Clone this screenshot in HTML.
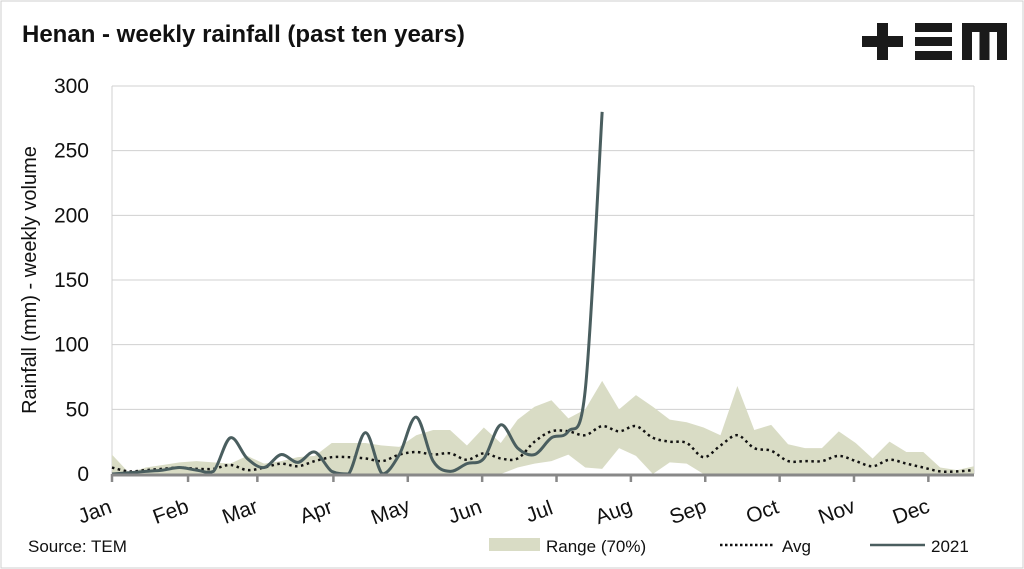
<!DOCTYPE html>
<html><head><meta charset="utf-8"><style>
body{margin:0;background:#fff;}
svg{display:block;font-family:"Liberation Sans",sans-serif;}
</style></head><body>
<svg id="chart" width="1024" height="569" viewBox="0 0 1024 569">
<rect x="1" y="1" width="1022" height="567" fill="#fff" stroke="#cfcfcf"/>
<text x="22" y="42" font-size="24" font-weight="bold" fill="#111">Henan - weekly rainfall (past ten years)</text>
<g fill="#1a1a1a">
<rect x="862" y="36" width="41" height="11"/><rect x="877" y="23" width="11" height="37"/>
<rect x="915" y="23" width="37" height="9"/><rect x="915" y="37" width="37" height="9"/><rect x="915" y="51" width="37" height="9"/>
<path d="M962 23h45v37h-10v-28h-7.5v28h-10v-28h-7.5v28h-10z"/>
</g>
<text transform="translate(36,280) rotate(-90)" text-anchor="middle" font-size="20" fill="#111">Rainfall (mm) - weekly volume</text>
<g id="grid"></g><g id="marks"></g><g id="axes"></g>
<text x="28" y="552" font-size="17" fill="#111">Source: TEM</text>
<g>
<g><rect x="489" y="538" width="51" height="13" fill="#d9dcc5"/><text x="546" y="552" font-size="17" fill="#111">Range (70%)</text></g>
<g><line x1="720" y1="545" x2="775" y2="545" stroke="#111" stroke-width="2.5" stroke-dasharray="2.5 2.5"/><text x="782" y="552" font-size="17" fill="#111">Avg</text></g>
<g><line x1="870" y1="545" x2="925" y2="545" stroke="#4a5e5f" stroke-width="2.5"/><text x="931" y="552" font-size="17" fill="#111">2021</text></g>
</g>
</svg>
<script>
const months=["Jan","Feb","Mar","Apr","May","Jun","Jul","Aug","Sep","Oct","Nov","Dec"];
const monthWeeks=[0,4.5,8.6,13.1,17.5,21.9,26.3,30.7,35.1,39.5,43.9,48.3];
const yTicks=[0,50,100,150,200,250,300];
const rangeUpper=[15,1,5,7,9,10,9,8,14,8,10,13,14,24,24,24,22,21,30,34,34,22,36,24,42,52,57,43,50,72,50,61,52,42,40,36,30,68,34,38,23,20,20,33,24,12,25,17,17,5,3,6];
const rangeLower=[0,0,0,0,0,0,0,0,0,0,0,0,0,0,0,0,0,0,0,0,0,0,0,0,5,8,10,15,5,4,20,14,0,9,8,0,0,0,0,0,0,0,0,0,0,0,0,0,0,0,0,0];
const avg=[5,2,3,4,5,4,4,7,3,5,8,6,10,13,13,12,10,15,17,15,16,11,16,12,12,25,33,33,30,37,33,37,28,25,24,13,22,30,20,18,10,10,10,14,10,6,11,8,5,2,2,3];
const y2021=[0,1,2,3,5,3,2,28,12,5,15,9,17,2,0,32,0,15,44,10,2,8,12,38,20,15,28,33,65,280];
const X0=112,X1=974,Y0=474,Y1=86,NW=51;
const xs=i=>X0+i*(X1-X0)/NW, ys=v=>Y0-v*(Y0-Y1)/300;
const NS="http://www.w3.org/2000/svg";
function mk(t,a,p){const e=document.createElementNS(NS,t);for(const k in a)e.setAttribute(k,a[k]);p.appendChild(e);return e;}
const grid=document.getElementById('grid'),marks=document.getElementById('marks'),axes=document.getElementById('axes');
yTicks.forEach(v=>{
 if(v>0){const g=mk('line',{x1:X0,x2:X1,y1:ys(v),y2:ys(v),stroke:'#d0d0d0','stroke-width':1},grid);
 
 }
 const t=mk('text',{x:89,y:ys(v)+7,'text-anchor':'end','font-size':21,fill:'#111'},axes);t.textContent=v;
 
 
});
const vl=mk('line',{x1:X0,x2:X0,y1:Y1,y2:Y0,stroke:'#d0d0d0'},grid);


const vr=mk('line',{x1:X1,x2:X1,y1:Y1,y2:Y0,stroke:'#d0d0d0'},grid);


let d='M'+rangeUpper.map((v,i)=>xs(i)+','+ys(v)).join('L');
for(let i=rangeLower.length-1;i>=0;i--)d+='L'+xs(i)+','+ys(rangeLower[i]);
const ra=mk('path',{d:d+'Z',fill:'#d9dcc5'},marks);


function smooth(pts){let s='M'+pts[0][0]+','+pts[0][1];for(let i=0;i<pts.length-1;i++){const p0=pts[Math.max(0,i-1)],p1=pts[i],p2=pts[i+1],p3=pts[Math.min(pts.length-1,i+2)];
const c1y=Math.min(Y0,p1[1]+(p2[1]-p0[1])/6),c2y=Math.min(Y0,p2[1]-(p3[1]-p1[1])/6);
s+=`C${p1[0]+(p2[0]-p0[0])/6},${c1y} ${p2[0]-(p3[0]-p1[0])/6},${c2y} ${p2[0]},${p2[1]}`;}return s;}
const al=mk('path',{d:smooth(avg.map((v,i)=>[xs(i),ys(v)])),fill:'none',stroke:'#111','stroke-width':2.5,'stroke-dasharray':'2.5 3.5'},marks);


const l21=mk('path',{d:smooth(y2021.map((v,i)=>[xs(i),ys(Math.max(0,v))])),fill:'none',stroke:'#4a5e5f','stroke-width':3},marks);


const ax=mk('line',{x1:X0,x2:X1,y1:Y0+1,y2:Y0+1,stroke:'#888','stroke-width':3},axes);


months.forEach((m,i)=>{const x=xs(monthWeeks[i]);
 const tk=mk('line',{x1:x,x2:x,y1:Y0,y2:Y0+8,stroke:'#888','stroke-width':2.5},axes);
 
 
 const t=mk('text',{transform:`translate(${x-15},${Y0+44}) rotate(-20)`,'text-anchor':'middle','font-size':21,fill:'#111'},axes);t.textContent=m;
 
 
});
</script>
</body></html>
